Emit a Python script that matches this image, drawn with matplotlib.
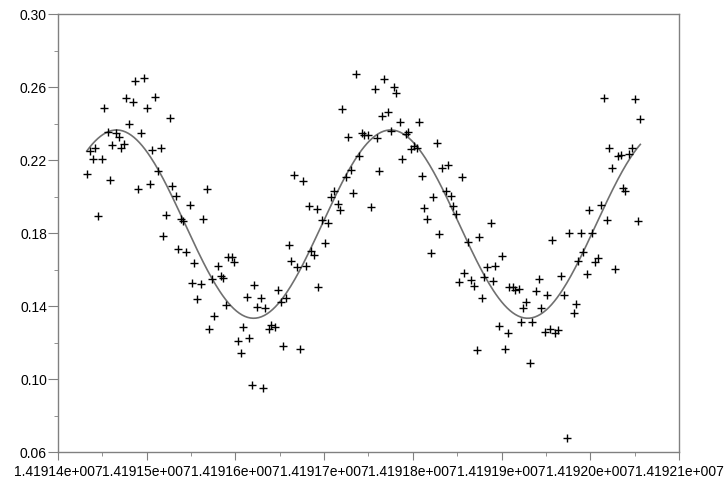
import numpy as np
import matplotlib
matplotlib.use("Agg")
import matplotlib.pyplot as plt
from matplotlib.ticker import MultipleLocator, FixedLocator, FuncFormatter

T0 = 14191400

# time offsets from T0 and measured values
t_off = [
    32.4, 36.1, 42.0, 39.1, 49.3, 44.8, 52.2, 56.0, 59.0, 61.2,
    65.0, 68.4, 71.4, 74.4, 76.7, 79.7, 84.2, 86.8, 96.6, 90.5,
    93.9, 100.7, 104.0, 106.3, 109.3, 112.4, 116.1, 118.7, 121.4, 126.3,
    128.9, 133.0, 135.6, 138.7, 141.2, 144.3, 148.5, 150.7, 153.7, 156.7,
    161.2, 163.5, 168.0, 170.6, 173.3, 176.2, 180.7, 183.7, 186.3, 189.0,
    192.0, 196.5, 198.7, 202.6, 206.0, 208.6, 212.7, 215.3, 218.4, 221.3,
    224.0, 228.5, 231.1, 233.7, 237.9, 240.5, 245.0, 247.7, 251.0, 253.3,
    256.7, 260.4, 263.0, 266.0, 269.1, 273.1, 275.8, 279.9, 283.0, 285.2,
    288.3, 292.0, 293.4, 297.9, 301.0, 304.0, 307.8, 311.1, 315.3, 317.9,
    320.5, 324.7, 327.3, 330.3, 332.9, 335.9, 339.7, 342.4, 345.3, 349.8,
    352.8, 357.0, 359.9, 362.2, 364.9, 367.8, 372.3, 375.4, 378.4, 380.7,
    385.2, 387.8, 392.0, 394.9, 397.6, 401.3, 404.7, 407.3, 410.0, 412.6,
    416.0, 420.1, 422.4, 426.9, 429.8, 432.5, 440.0, 437.1, 442.7, 445.6,
    448.3, 455.1, 452.0, 457.7, 461.9, 465.2, 469.0, 471.8, 474.3, 477.6,
    480.6, 483.9, 487.6, 490.0, 493.0, 496.6, 500.0, 503.9, 506.7, 508.6,
    512.6, 515.7, 519.1, 521.9, 524.5, 527.2, 531.9, 534.7, 538.6, 541.7,
    544.5, 549.0, 551.6, 555.0, 556.5, 560.5, 563.9, 566.7, 569.9, 573.8,
    576.4, 581.1, 583.7, 585.9, 589.2, 592.2, 596.1, 598.9, 601.6, 605.0,
    608.7, 611.8, 615.5, 618.6, 621.4, 624.3, 628.2, 631.2, 634.1, 636.6,
    639.5, 643.9, 646.7, 650.5, 653.8, 656.4,
]
values = [
    0.2124, 0.2250, 0.2266, 0.2206, 0.2206, 0.1894, 0.2484, 0.2352, 0.2091, 0.2281,
    0.2347, 0.2325, 0.2266, 0.2290, 0.2542, 0.2400, 0.2518, 0.2635, 0.2648, 0.2042,
    0.2350, 0.2484, 0.2069, 0.2254, 0.2547, 0.2139, 0.2265, 0.1785, 0.1900, 0.2429,
    0.2058, 0.2004, 0.1715, 0.1876, 0.1868, 0.1697, 0.1954, 0.1529, 0.1635, 0.1438,
    0.1519, 0.1879, 0.2042, 0.1275, 0.1547, 0.1348, 0.1620, 0.1565, 0.1556, 0.1408,
    0.1671, 0.1668, 0.1642, 0.1211, 0.1145, 0.1288, 0.1452, 0.1226, 0.0969, 0.1518,
    0.1396, 0.1445, 0.0954, 0.1390, 0.1277, 0.1296, 0.1288, 0.1487, 0.1421, 0.1180,
    0.1445, 0.1737, 0.1649, 0.2119, 0.1613, 0.1164, 0.2088, 0.1619, 0.1949, 0.1702,
    0.1679, 0.1931, 0.1507, 0.1872, 0.1745, 0.1854, 0.1997, 0.2031, 0.1958, 0.1927,
    0.2478, 0.2109, 0.2328, 0.2146, 0.2022, 0.2670, 0.2224, 0.2350, 0.2338, 0.2336,
    0.1943, 0.2588, 0.2321, 0.2139, 0.2443, 0.2643, 0.2465, 0.2361, 0.2602, 0.2566,
    0.2411, 0.2206, 0.2343, 0.2352, 0.2259, 0.2277, 0.2265, 0.2411, 0.2115, 0.1936,
    0.1879, 0.1690, 0.1997, 0.2296, 0.1797, 0.2157, 0.2173, 0.2033, 0.2001, 0.1949,
    0.1907, 0.2110, 0.1533, 0.1580, 0.1749, 0.1542, 0.1513, 0.1160, 0.1779, 0.1443,
    0.1560, 0.1616, 0.1853, 0.1538, 0.1621, 0.1293, 0.1677, 0.1167, 0.1255, 0.1507,
    0.1505, 0.1489, 0.1494, 0.1315, 0.1389, 0.1423, 0.1091, 0.1311, 0.1483, 0.1547,
    0.1389, 0.1260, 0.1459, 0.1274, 0.1765, 0.1252, 0.1267, 0.1567, 0.1459, 0.0681,
    0.1799, 0.1365, 0.1412, 0.1650, 0.1799, 0.1697, 0.1575, 0.1927, 0.1799, 0.1641,
    0.1662, 0.1954, 0.2539, 0.1872, 0.2268, 0.2159, 0.1602, 0.2223, 0.2228, 0.2049,
    0.2030, 0.2235, 0.2268, 0.2533, 0.1867, 0.2424,
]

y_ticks = [0.06, 0.10, 0.14, 0.18, 0.22, 0.26, 0.30]

# sine fit parameters
FIT_MEAN = 0.18495
FIT_AMP = 0.05155
FIT_PERIOD = 309.0
FIT_PEAK = 66.0

times = T0 + np.array(t_off)
tt = np.linspace(times.min(), times.max(), 400)
fit = FIT_MEAN + FIT_AMP * np.cos(2 * np.pi * (tt - T0 - FIT_PEAK) / FIT_PERIOD)


def sci3(v, pos=None):
    if v == 0:
        return "0"
    e = int(np.floor(np.log10(abs(v))))
    m = v / 10 ** e
    return f"{m:.5f}e{'+' if e >= 0 else '-'}{abs(e):03d}"


plt.rcParams['font.family'] = ['Liberation Sans', 'DejaVu Sans']
fig = plt.figure(figsize=(7.27, 4.79), dpi=100)
ax = fig.add_axes([58 / 727, 1 - 452.3 / 479, 621 / 727, 438.3 / 479])

ax.plot(tt, fit, color='#707070', lw=1.2, zorder=2)
ax.plot(times, values, ls='none', marker='+', ms=5.5, mew=1.0, color='black', zorder=3)

ax.set_xlim(14191400, 14192100)
ax.set_ylim(0.06, 0.30)
ax.xaxis.set_major_locator(MultipleLocator(100))
ax.xaxis.set_minor_locator(MultipleLocator(50))
ax.yaxis.set_major_locator(FixedLocator(y_ticks))
ax.yaxis.set_minor_locator(FixedLocator([t + 0.02 for t in y_ticks[:-1]]))
ax.xaxis.set_major_formatter(FuncFormatter(sci3))
ax.yaxis.set_major_formatter(FuncFormatter(lambda v, p: f"{v:.2f}"))

for s in ax.spines.values():
    s.set_color('#808080')
    s.set_linewidth(1.0)
ax.tick_params(which='both', direction='out', colors='#808080', labelcolor='black', labelsize=10)
ax.tick_params(axis='y', which='major', length=7, pad=1)
ax.tick_params(axis='x', which='major', length=6, pad=3)
ax.tick_params(which='minor', length=3)

fig.savefig('out.png', dpi=100)
